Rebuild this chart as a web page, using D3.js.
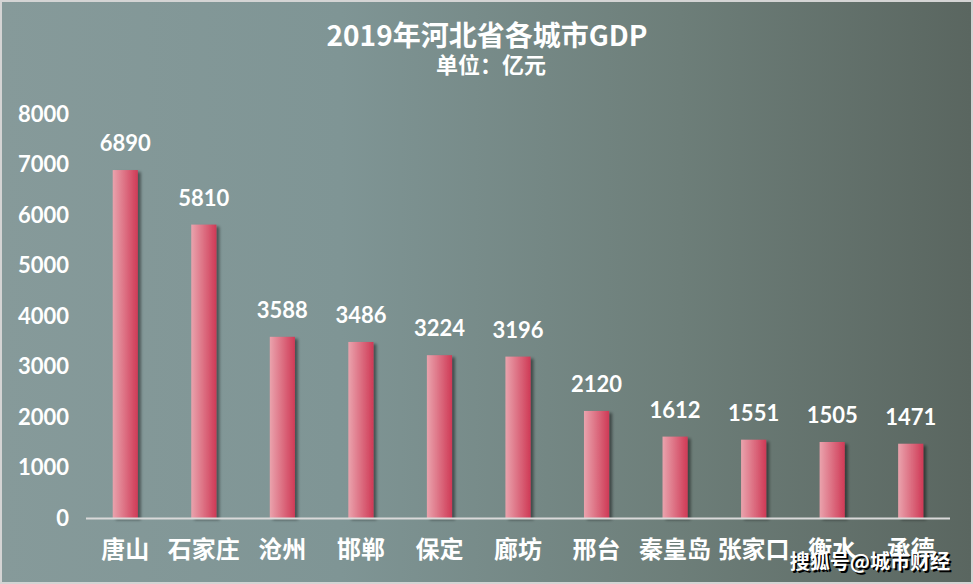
<!DOCTYPE html>
<html><head><meta charset="utf-8">
<script src="https://cdn.jsdelivr.net/npm/d3@7"></script>
<style>
html,body{margin:0;padding:0;background:#d4d4d4;}
svg{display:block;}
</style></head>
<body>
<svg id="c" width="973" height="584"></svg>
<script>
const categories = ["唐山","石家庄","沧州","邯郸","保定","廊坊","邢台","秦皇岛","张家口","衡水","承德"];
const values = [6890,5810,3588,3486,3224,3196,2120,1612,1551,1505,1471];
const yTicks = [0,1000,2000,3000,4000,5000,6000,7000,8000];
const title = "2019年河北省各城市GDP";
const subtitle = "单位：亿元";
const watermark = "搜狐号@城市财经";

const W = 973, H = 584;
const svg = d3.select("#c");
const defs = svg.append("defs");
const bg = defs.append("linearGradient").attr("id","bg").attr("x1","0").attr("x2","1").attr("y1","0").attr("y2","0");
bg.append("stop").attr("offset","0").attr("stop-color","#869a9a");
bg.append("stop").attr("offset","0.35").attr("stop-color","#7f9595");
bg.append("stop").attr("offset","0.7").attr("stop-color","#6d7e79");
bg.append("stop").attr("offset","1").attr("stop-color","#5a6660");
const bar = defs.append("linearGradient").attr("id","bar").attr("x1","0").attr("x2","1").attr("y1","0").attr("y2","0");
bar.append("stop").attr("offset","0").attr("stop-color","#eaa3ad");
bar.append("stop").attr("offset","1").attr("stop-color","#cf3a56");
const sh = defs.append("filter").attr("id","sh").attr("x","-50%").attr("y","-10%").attr("width","200%").attr("height","130%");
sh.append("feGaussianBlur").attr("in","SourceAlpha").attr("stdDeviation","1.5").attr("result","b");
sh.append("feOffset").attr("in","b").attr("dx","3").attr("dy","2").attr("result","o");
sh.append("feComponentTransfer").attr("in","o").attr("result","o2").append("feFuncA").attr("type","linear").attr("slope","0.45");
const m = sh.append("feMerge"); m.append("feMergeNode").attr("in","o2"); m.append("feMergeNode").attr("in","SourceGraphic");

svg.append("rect").attr("x",0).attr("y",0).attr("width",W).attr("height",H).attr("fill","#d4d4d4");
svg.append("rect").attr("x",2).attr("y",2).attr("width",W-4).attr("height",H-4).attr("fill","url(#bg)");

const x = d3.scaleBand().domain(categories).range([86,950]).paddingInner(0.68).paddingOuter(0.34);
const y = d3.scaleLinear().domain([0,8000]).range([518,114]);

const cn = "'Noto Sans CJK SC', sans-serif";
const num = "Lato, 'Open Sans', sans-serif";

// y tick labels
svg.append("g").selectAll("text").data(yTicks).join("text")
  .attr("x",69).attr("y",d=>y(d)).attr("dy","0.36em").attr("text-anchor","end")
  .attr("fill","#fff").attr("font-family",num).attr("font-weight","bold").attr("font-size",22)
  .text(d=>d);

// bars
svg.append("g").selectAll("rect").data(values).join("rect")
  .attr("x",(d,i)=>x(categories[i])).attr("y",d=>y(d))
  .attr("width",x.bandwidth()).attr("height",d=>y(0)-y(d))
  .attr("fill","url(#bar)").attr("filter","url(#sh)");

// axis line
svg.append("line").attr("x1",86).attr("x2",950).attr("y1",y(0)+0.5).attr("y2",y(0)+0.5)
  .attr("stroke","#d9d9d9").attr("stroke-width",2);

// value labels
svg.append("g").selectAll("text").data(values).join("text")
  .attr("x",(d,i)=>x(categories[i])+x.bandwidth()/2).attr("y",d=>y(d)-19)
  .attr("text-anchor","middle").attr("fill","#fff").attr("font-family",num)
  .attr("font-weight","bold").attr("font-size",22).text(d=>d);

// category labels
svg.append("g").selectAll("text").data(categories).join("text")
  .attr("x",d=>x(d)+x.bandwidth()/2).attr("y",558)
  .attr("text-anchor","middle").attr("fill","#fff").attr("font-family",cn)
  .attr("font-weight","bold").attr("font-size",24).text(d=>d);

// titles
svg.append("text").attr("x",487).attr("y",46).attr("text-anchor","middle").attr("fill","#fff")
  .attr("font-family",cn).attr("font-weight","bold").attr("font-size",28).text(title);
svg.append("text").attr("x",491).attr("y",73).attr("text-anchor","middle").attr("fill","#fff")
  .attr("font-family",cn).attr("font-weight","bold").attr("font-size",22).text(subtitle);

// watermark
svg.append("text").attr("x",952).attr("y",571).attr("text-anchor","end").attr("fill","#000")
  .attr("font-family",cn).attr("font-weight","bold").attr("font-size",20).text(watermark);
svg.append("text").attr("x",950).attr("y",569).attr("text-anchor","end").attr("fill","#fff")
  .attr("font-family",cn).attr("font-weight","bold").attr("font-size",20).text(watermark);
</script>
</body></html>
